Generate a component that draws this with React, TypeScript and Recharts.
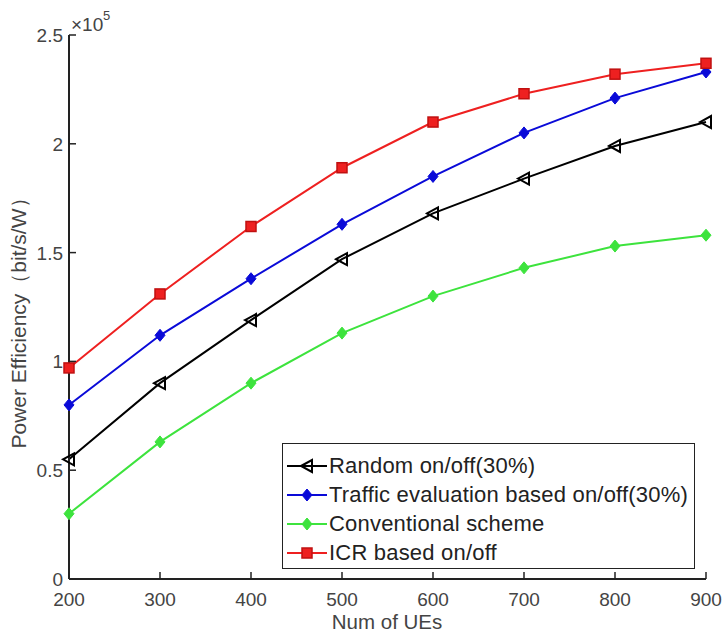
import { Line, LineChart, XAxis, YAxis } from "recharts";

const numUEs = [200, 300, 400, 500, 600, 700, 800, 900];
const randomOnOff = [0.55, 0.9, 1.19, 1.47, 1.68, 1.84, 1.99, 2.1];
const trafficOnOff = [0.8, 1.12, 1.38, 1.63, 1.85, 2.05, 2.21, 2.33];
const conventional = [0.3, 0.63, 0.9, 1.13, 1.3, 1.43, 1.53, 1.58];
const icrOnOff = [0.97, 1.31, 1.62, 1.89, 2.1, 2.23, 2.32, 2.37];

const xTicks = [200, 300, 400, 500, 600, 700, 800, 900];
const yTicks = [0, 0.5, 1, 1.5, 2, 2.5];

const seriesNames = [
  "Random on/off(30%)",
  "Traffic evaluation based on/off(30%)",
  "Conventional scheme",
  "ICR based on/off"
];

const data = numUEs.map((n, i) => ({
  n,
  random: randomOnOff[i],
  traffic: trafficOnOff[i],
  conv: conventional[i],
  icr: icrOnOff[i]
}));

const font = "'Liberation Sans', Arial, sans-serif";
const frame = "#222";
const tickLen = 7;

const colors = {
  random: "#000000",
  traffic: "#0a0ad8",
  conv: "#3de33d",
  icr: "#ee2020"
};

type Marker = "tri" | "diamond" | "square";

function MarkerShape({ kind, cx, cy, color }: { kind: Marker; cx: number; cy: number; color: string }) {
  if (kind === "tri") {
    return (
      <polygon
        points={`${cx - 6},${cy} ${cx + 5},${cy - 6} ${cx + 5},${cy + 6}`}
        fill="none"
        stroke={color}
        strokeWidth={2}
      />
    );
  }
  if (kind === "diamond") {
    return (
      <polygon
        points={`${cx},${cy - 6} ${cx + 5},${cy} ${cx},${cy + 6} ${cx - 5},${cy}`}
        fill={color}
        stroke={color}
        strokeWidth={1}
      />
    );
  }
  return <rect x={cx - 5} y={cy - 5} width={10} height={10} fill={color} stroke="#c01010" strokeWidth={1.5} />;
}

function dotFor(kind: Marker, color: string) {
  return (props: any) => (
    <MarkerShape key={`${kind}-${props.index}`} kind={kind} cx={props.cx} cy={props.cy} color={color} />
  );
}

function BottomTick({ x, y, payload }: any) {
  return (
    <g>
      <line x1={x} y1={y} x2={x} y2={y - tickLen} stroke={frame} strokeWidth={1.5} />
      <text x={x} y={y + 27} textAnchor="middle" fontSize={19} fill="#444" fontFamily={font}>
        {payload.value}
      </text>
    </g>
  );
}

function TopTick({ x, y }: any) {
  return <line x1={x} y1={y} x2={x} y2={y + tickLen} stroke={frame} strokeWidth={1.5} />;
}

function LeftTick({ x, y, payload }: any) {
  return (
    <g>
      <line x1={x} y1={y} x2={x + tickLen} y2={y} stroke={frame} strokeWidth={1.5} />
      <text x={x - 6} y={y + 7} textAnchor="end" fontSize={19} fill="#444" fontFamily={font}>
        {payload.value}
      </text>
    </g>
  );
}

function RightTick({ x, y }: any) {
  return <line x1={x} y1={y} x2={x - tickLen} y2={y} stroke={frame} strokeWidth={1.5} />;
}

const legendRows: { name: string; color: string; kind: Marker }[] = [
  { name: seriesNames[0], color: colors.random, kind: "tri" },
  { name: seriesNames[1], color: colors.traffic, kind: "diamond" },
  { name: seriesNames[2], color: colors.conv, kind: "diamond" },
  { name: seriesNames[3], color: colors.icr, kind: "square" }
];

function LegendBox() {
  return (
    <div
      style={{
        position: "absolute",
        left: 282,
        top: 443,
        width: 413,
        height: 126,
        border: "1.5px solid #222",
        background: "#fff",
        fontFamily: font,
        fontSize: 22,
        letterSpacing: 0.2,
        color: "#222",
        paddingTop: 7,
        boxSizing: "border-box"
      }}
    >
      {legendRows.map((r) => (
        <div key={r.name} style={{ display: "flex", alignItems: "center", height: 29 }}>
          <svg width={44} height={20} style={{ marginLeft: 2 }}>
            <line x1={2} y1={10} x2={42} y2={10} stroke={r.color} strokeWidth={2} />
            <MarkerShape kind={r.kind} cx={22} cy={10} color={r.color} />
          </svg>
          <span style={{ whiteSpace: "nowrap" }}>{r.name}</span>
        </div>
      ))}
    </div>
  );
}

export default function App() {
  return (
    <div style={{ position: "absolute", left: 0, top: 0, width: 724, height: 635, background: "#fff" }}>
      <LineChart width={724} height={635} data={data} margin={{ top: 35, right: 18, left: 9, bottom: 6 }}>
        <XAxis
          xAxisId="b"
          dataKey="n"
          type="number"
          domain={[200, 900]}
          ticks={xTicks}
          height={50}
          tickSize={0}
          tickMargin={0}
          tick={<BottomTick />}
          axisLine={{ stroke: frame, strokeWidth: 2 }}
          label={{
            content: () => (
              <text x={387} y={629} textAnchor="middle" fontSize={20.5} fill="#444" fontFamily={font}>
                Num of UEs
              </text>
            )
          }}
        />
        <XAxis
          xAxisId="t"
          dataKey="n"
          type="number"
          orientation="top"
          domain={[200, 900]}
          ticks={xTicks}
          height={0}
          tickSize={0}
          tickMargin={0}
          tick={<TopTick />}
          axisLine={{ stroke: frame, strokeWidth: 2 }}
        />
        <YAxis
          yAxisId="l"
          type="number"
          domain={[0, 2.5]}
          ticks={yTicks}
          width={60}
          tickSize={0}
          tickMargin={0}
          tick={<LeftTick />}
          axisLine={{ stroke: frame, strokeWidth: 2 }}
          label={{
            content: () => (
              <g fontFamily={font} fill="#444">
                <text x={26} y={318} transform="rotate(-90 26 318)" textAnchor="middle" fontSize={21}>
                  Power Efficiency（bit/s/W）
                </text>
                <text x={71} y={31} fontSize={19}>
                  ×10
                </text>
                <text x={103} y={20} fontSize={13}>
                  5
                </text>
              </g>
            )
          }}
        />
        <YAxis
          yAxisId="r"
          orientation="right"
          type="number"
          domain={[0, 2.5]}
          ticks={yTicks}
          width={0}
          tickSize={0}
          tickMargin={0}
          tick={<RightTick />}
          axisLine={{ stroke: frame, strokeWidth: 2 }}
        />
        <Line
          xAxisId="b"
          yAxisId="l"
          type="linear"
          dataKey="conv"
          stroke={colors.conv}
          strokeWidth={2}
          dot={dotFor("diamond", colors.conv)}
          activeDot={false}
          isAnimationActive={false}
        />
        <Line
          xAxisId="b"
          yAxisId="l"
          type="linear"
          dataKey="random"
          stroke={colors.random}
          strokeWidth={2}
          dot={dotFor("tri", colors.random)}
          activeDot={false}
          isAnimationActive={false}
        />
        <Line
          xAxisId="b"
          yAxisId="l"
          type="linear"
          dataKey="traffic"
          stroke={colors.traffic}
          strokeWidth={2}
          dot={dotFor("diamond", colors.traffic)}
          activeDot={false}
          isAnimationActive={false}
        />
        <Line
          xAxisId="b"
          yAxisId="l"
          type="linear"
          dataKey="icr"
          stroke={colors.icr}
          strokeWidth={2}
          dot={dotFor("square", colors.icr)}
          activeDot={false}
          isAnimationActive={false}
        />
      </LineChart>
      <LegendBox />
    </div>
  );
}
